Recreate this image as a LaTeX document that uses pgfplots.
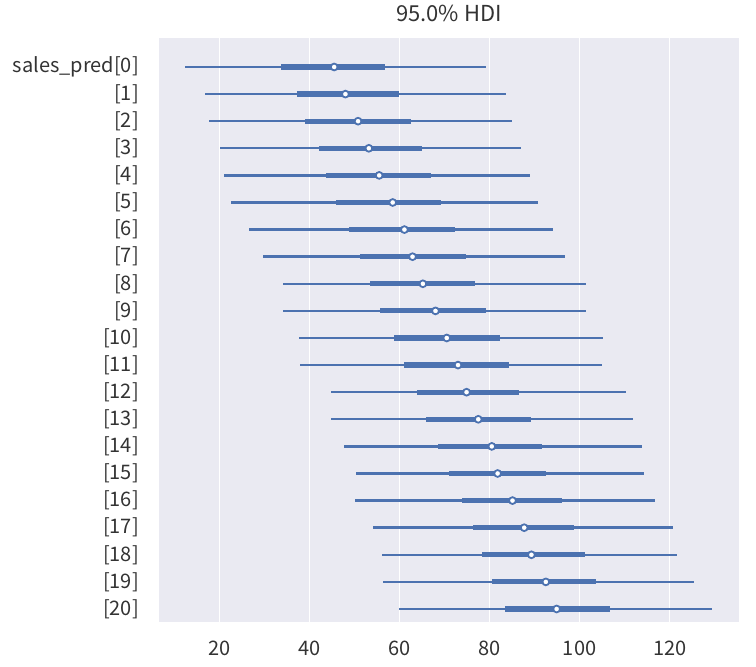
\documentclass[border=0pt]{standalone}
\usepackage{pgfplots}
\usepackage{pgfplotstable}
\pgfplotsset{compat=1.18}
\usepackage{fontspec}
\setmainfont{Noto Sans CJK JP}
\definecolor{c0}{HTML}{4C72B0}
\definecolor{bgc}{HTML}{EAEAF2}
\definecolor{txt}{HTML}{333333}

% row = 20 - index ; lo95 hi95 = 95% HDI ; lo50 hi50 = inner interval ; med = point
\pgfplotstableread{
row lo95 hi95 lo50 hi50 med
20 12.4 79.3 33.8 56.7 45.5
19 16.9 83.7 37.2 60.0 48.0
18 17.7 85.0 39.0 62.6 50.8
17 20.2 87.0 42.1 65.1 53.2
16 21.0 88.9 43.7 67.0 55.5
15 22.7 90.7 46.0 69.2 58.5
14 26.5 94.0 48.7 72.3 61.1
13 29.7 96.7 51.3 74.8 62.9
12 34.1 101.4 53.5 76.8 65.2
11 34.1 101.4 55.7 79.3 68.0
10 37.7 105.3 58.8 82.3 70.5
9 37.9 105.0 61.0 84.3 73.0
8 44.9 110.3 63.8 86.5 74.9
7 44.9 111.8 65.9 89.3 77.5
6 47.7 113.9 68.6 91.7 80.5
5 50.4 114.3 71.0 92.5 81.8
4 50.2 116.7 73.8 96.2 85.1
3 54.1 120.8 76.3 98.7 87.7
2 56.1 121.6 78.3 101.2 89.3
1 56.3 125.3 80.5 103.7 92.5
0 60.0 129.4 83.5 106.7 94.9
}\hdidata

\begin{document}
\fontsize{20bp}{24bp}\selectfont
\begin{tikzpicture}
\begin{axis}[
  scale only axis,
  width=580bp, height=584bp,
  xmin=6.6, xmax=135.4,
  ymin=-0.48, ymax=21.07,
  axis background/.style={fill=bgc},
  axis line style={draw=none},
  major tick length=0pt,
  xtick={20,40,60,80,100,120},
  ytick={0,1,...,20},
  yticklabels={{[20]},{[19]},{[18]},{[17]},{[16]},{[15]},{[14]},{[13]},{[12]},{[11]},{[10]},{[9]},{[8]},{[7]},{[6]},{[5]},{[4]},{[3]},{[2]},{[1]},{sales\_pred[0]}},
  xmajorgrids,
  grid style={white, line width=1.3bp},
  /pgf/number format/assume math mode=true,
  tick label style={font=\fontsize{20bp}{24bp}\selectfont, text=txt},
  xticklabel style={anchor=center, inner sep=0pt},
  xticklabel shift=26bp,
  yticklabel style={anchor=east, inner sep=0pt},
  yticklabel shift=20bp,
  title={95.0\% HDI},
  title style={at={(0.5,1)}, anchor=center, yshift=19bp, font=\fontsize{22bp}{26bp}\selectfont, text=txt},
  clip=false,
]
\addplot[only marks, mark=none, forget plot,
  error bars/.cd, x dir=both, x explicit, error mark=none,
  error bar style={draw=c0, line width=2.4bp}]
  table[x=med, y=row,
    x error plus expr=\thisrow{hi95}-\thisrow{med},
    x error minus expr=\thisrow{med}-\thisrow{lo95}] {\hdidata};
\addplot[only marks, mark=none, forget plot,
  error bars/.cd, x dir=both, x explicit, error mark=none,
  error bar style={draw=c0, line width=5.2bp}]
  table[x=med, y=row,
    x error plus expr=\thisrow{hi50}-\thisrow{med},
    x error minus expr=\thisrow{med}-\thisrow{lo50}] {\hdidata};
\addplot[only marks, mark=*, mark size=3.4bp,
  mark options={fill=white, draw=c0, line width=1.8bp}]
  table[x=med, y=row] {\hdidata};
\end{axis}
\pgfresetboundingbox
\path[use as bounding box] ([shift={(-159bp,-45bp)}]current axis.south west) rectangle ([shift={(17bp,38bp)}]current axis.north east);
\end{tikzpicture}
\end{document}
